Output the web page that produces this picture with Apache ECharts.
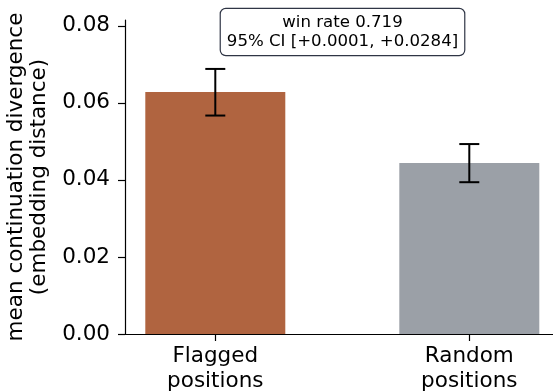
<!DOCTYPE html>
<html>
<head>
<meta charset="utf-8">
<script src="https://cdn.jsdelivr.net/npm/echarts@6/dist/echarts.min.js"></script>
<style>html,body{margin:0;padding:0;background:#fff}#c{width:553px;height:392px}</style>
</head>
<body>
<div id="c"></div>
<script>
const categories = ['Flagged\npositions', 'Random\npositions'];
const means = [0.0628, 0.0444];
const errLow = [0.0567, 0.0394];
const errHigh = [0.0688, 0.0493];
const barColors = ['#b06440', '#9ba0a7'];
const yTicks = [0, 0.02, 0.04, 0.06, 0.08];
const annotation = 'win rate 0.719\n95% CI [+0.0001, +0.0284]';

const FONT = 'DejaVu Sans';
const chart = echarts.init(document.getElementById('c'), null, {renderer: 'canvas'});
const xPos = categories.map((c, i) => i);

chart.setOption({
  animation: false,
  backgroundColor: '#fff',
  grid: {left: 125, top: 20, width: 434.6, height: 314, containLabel: false, outerBoundsMode: 'none'},
  xAxis: {
    type: 'value', min: -0.3555, max: 1.3555,
    splitLine: {show: false},
    axisLine: {show: true, onZero: false, lineStyle: {color: '#000', width: 1.2}},
    axisTick: {show: true, customValues: xPos, length: 7, lineStyle: {color: '#000', width: 1.2}},
    axisLabel: {customValues: xPos, formatter: v => categories[Math.round(v)] || '',
      color: '#000', fontFamily: FONT, fontSize: 21.5, lineHeight: 25, margin: 10}
  },
  yAxis: {
    type: 'value', min: 0, max: 0.0815,
    splitLine: {show: false},
    axisLine: {show: true, onZero: false, lineStyle: {color: '#000', width: 1.2}},
    axisTick: {show: true, customValues: yTicks, length: 7, lineStyle: {color: '#000', width: 1.2}},
    axisLabel: {customValues: yTicks, formatter: v => v.toFixed(2),
      color: '#000', fontFamily: FONT, fontSize: 21.5, margin: 15},
    name: 'mean continuation divergence\n(embedding distance)',
    nameLocation: 'middle', nameRotate: 90, nameGap: 66,
    nameTextStyle: {color: '#000', fontFamily: FONT, fontSize: 21.5, lineHeight: 23}
  },
  series: [
    {
      type: 'bar', barWidth: 140,
      data: means.map((m, i) => ({value: [i, m], itemStyle: {color: barColors[i]}}))
    },
    {
      type: 'custom',
      data: means.map((m, i) => [i, errLow[i], errHigh[i]]),
      z: 10,
      renderItem: function (params, api) {
        const x = api.value(0);
        const lo = api.coord([x, api.value(1)]);
        const hi = api.coord([x, api.value(2)]);
        const cap = 10;
        const st = {stroke: '#000', lineWidth: 2};
        return {type: 'group', children: [
          {type: 'line', shape: {x1: lo[0], y1: lo[1], x2: hi[0], y2: hi[1]}, style: st},
          {type: 'line', shape: {x1: lo[0] - cap, y1: lo[1], x2: lo[0] + cap, y2: lo[1]}, style: st},
          {type: 'line', shape: {x1: hi[0] - cap, y1: hi[1], x2: hi[0] + cap, y2: hi[1]}, style: st}
        ]};
      }
    }
  ],
  graphic: [{
    type: 'text', x: 342.5, y: 9, z: 20,
    style: {
      text: annotation, fontFamily: FONT, fontSize: 16.6, lineHeight: 19,
      fill: '#000', align: 'center', verticalAlign: 'top',
      backgroundColor: '#fff', borderColor: '#2f3545', borderWidth: 1.2, borderRadius: 5,
      padding: [4, 6, 4, 6]
    }
  }]
});
</script>
</body>
</html>
